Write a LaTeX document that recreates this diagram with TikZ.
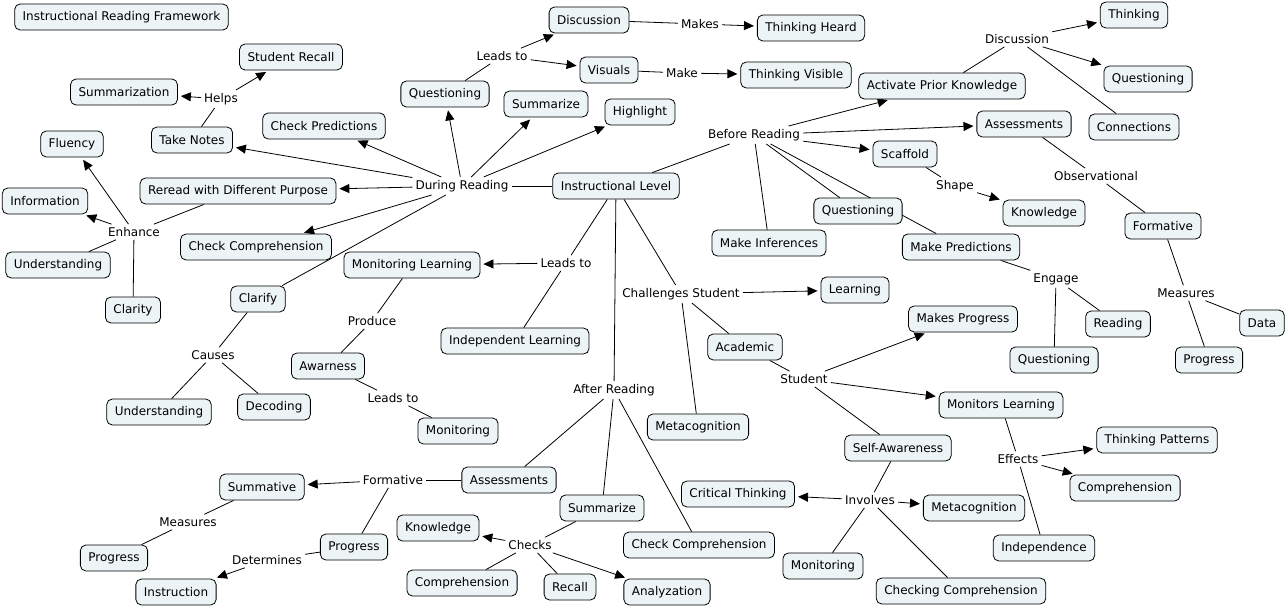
\documentclass[tikz,border=0pt]{standalone}
\usepackage{fontspec}
\setmainfont{DejaVu Sans}
\usetikzlibrary{arrows.meta,backgrounds}
\definecolor{cfill}{RGB}{237,244,246}
\begin{document}
\begin{tikzpicture}[x=1pt,y=-1pt,
  concept/.style={draw=black, line width=0.8pt, fill=cfill, rounded corners=5.5pt,
    minimum height=26pt, inner xsep=8pt, inner ysep=3pt, font=\fontsize{12}{14}\selectfont},
  lp/.style={inner sep=3pt, font=\fontsize{12}{14}\selectfont},
  link/.style={line width=0.8pt, draw=black},
  arr/.style={link, -{Triangle[length=10pt,width=9pt]}, shorten >=3pt}]
\useasboundingbox (0,0) rectangle (1287,608);
% concepts
\node[concept] (irf) at (121.5,17) {Instructional Reading Framework};
\node[concept] (sr) at (291,57) {Student Recall};
\node[concept] (summ) at (124,92) {Summarization};
\node[concept] (tn) at (192,140) {Take Notes};
\node[concept] (cp) at (324,126) {Check Predictions};
\node[concept] (flu) at (72,144) {Fluency};
\node[concept] (rr) at (238,191) {Reread with Different Purpose};
\node[concept] (info) at (45,201) {Information};
\node[concept] (cc1) at (256,247) {Check Comprehension};
\node[concept] (und1) at (58,265) {Understanding};
\node[concept] (clarity) at (133,310) {Clarity};
\node[concept] (clarify) at (258,299) {Clarify};
\node[concept] (ml) at (412,265) {Monitoring Learning};
\node[concept] (q1) at (445,94) {Questioning};
\node[concept] (disc1) at (589,20) {Discussion};
\node[concept] (vis) at (609,70) {Visuals};
\node[concept] (th) at (811,28) {Thinking Heard};
\node[concept] (tv) at (796,75) {Thinking Visible};
\node[concept] (sum1) at (546,104) {Summarize};
\node[concept] (hl) at (640,112) {Highlight};
\node[concept] (il) at (616,186) {Instructional Level};
\node[concept] (apk) at (942,86) {Activate Prior Knowledge};
\node[concept] (thinking) at (1134,15) {Thinking};
\node[concept] (q2) at (1148,79) {Questioning};
\node[concept] (conn) at (1134,127) {Connections};
\node[concept] (ass1) at (1024,124) {Assessments};
\node[concept] (scaf) at (905,154) {Scaffold};
\node[concept] (know1) at (1044,213) {Knowledge};
\node[concept] (form1) at (1163,226) {Formative};
\node[concept] (q3) at (858,211) {Questioning};
\node[concept] (mi) at (769,243) {Make Inferences};
\node[concept] (mp) at (961,247) {Make Predictions};
\node[concept] (reading) at (1118,324) {Reading};
\node[concept] (q4) at (1054,360) {Questioning};
\node[concept] (data) at (1262,323) {Data};
\node[concept] (prog1) at (1209,360) {Progress};
\node[concept] (indep) at (515,341) {Independent Learning};
\node[concept] (learn) at (855,290) {Learning};
\node[concept] (acad) at (745,347) {Academic};
\node[concept] (meta1) at (698,427) {Metacognition};
\node[concept] (mkp) at (963,319) {Makes Progress};
\node[concept] (monl) at (1001,405) {Monitors Learning};
\node[concept] (sa) at (898,448) {Self-Awareness};
\node[concept] (tp) at (1157,440) {Thinking Patterns};
\node[concept] (comp1) at (1125,488) {Comprehension};
\node[concept] (indep2) at (1044,548) {Independence};
\node[concept] (ct) at (738,494) {Critical Thinking};
\node[concept] (meta2) at (974,508) {Metacognition};
\node[concept] (mon2) at (823,566) {Monitoring};
\node[concept] (chk) at (961,591) {Checking Comprehension};
\node[concept] (aw) at (328,366) {Awarness};
\node[concept] (mon1) at (458,431) {Monitoring};
\node[concept] (und2) at (159,412) {Understanding};
\node[concept] (dec) at (274,407) {Decoding};
\node[concept] (ass2) at (509,480) {Assessments};
\node[concept] (summative) at (262,487) {Summative};
\node[concept] (prog2) at (114,558) {Progress};
\node[concept] (prog3) at (354,547) {Progress};
\node[concept] (instr) at (176,592) {Instruction};
\node[concept] (sum2) at (602,508) {Summarize};
\node[concept] (know2) at (438,528) {Knowledge};
\node[concept] (comp2) at (462,583) {Comprehension};
\node[concept] (recall) at (570,587) {Recall};
\node[concept] (anal) at (667,592) {Analyzation};
\node[concept] (cc2) at (699,545) {Check Comprehension};
% linking phrases
\node[lp] (helps) at (221,99) {Helps};
\node[lp] (enh) at (134,232) {Enhance};
\node[lp] (during) at (462,186) {During Reading};
\node[lp] (leads1) at (502,56) {Leads to};
\node[lp] (makes) at (700,24) {Makes};
\node[lp] (make) at (682,73) {Make};
\node[lp] (before) at (754,135) {Before Reading};
\node[lp] (disc2) at (1017,39) {Discussion};
\node[lp] (shape) at (955,186) {Shape};
\node[lp] (obs) at (1096,176) {Observational};
\node[lp] (engage) at (1056,279) {Engage};
\node[lp] (meas1) at (1186,293) {Measures};
\node[lp] (leads2) at (566,263) {Leads to};
\node[lp] (chal) at (681,294) {Challenges Student};
\node[lp] (student) at (804,379) {Student};
\node[lp] (effects) at (1018,459) {Effects};
\node[lp] (involves) at (870,500) {Involves};
\node[lp] (produce) at (372,321) {Produce};
\node[lp] (leads3) at (393,398) {Leads to};
\node[lp] (causes) at (213,355) {Causes};
\node[lp] (after) at (614,390) {After Reading};
\node[lp] (form2) at (393,480) {Formative};
\node[lp] (meas2) at (188,522) {Measures};
\node[lp] (det) at (267,560) {Determines};
\node[lp] (checks) at (530,545) {Checks};
% connectors
\begin{scope}[on background layer]
\draw[link] (tn) -- (helps);
\draw[arr] (helps) -- (summ);
\draw[arr] (helps) -- (sr);
\draw[link] (il) -- (during);
\draw[arr] (during) -- (tn);
\draw[arr] (during) -- (cp);
\draw[arr] (during) -- (rr);
\draw[arr] (during) -- (cc1);
\draw[arr] (during) -- (q1);
\draw[arr] (during) -- (sum1);
\draw[arr] (during) -- (hl);
\draw[link] (during) -- (clarify);
\draw[link] (rr) -- (enh);
\draw[arr] (enh) -- (flu);
\draw[arr] (enh) -- (info);
\draw[link] (enh) -- (und1);
\draw[link] (enh) -- (clarity);
\draw[link] (q1) -- (leads1);
\draw[arr] (leads1) -- (disc1);
\draw[arr] (leads1) -- (vis);
\draw[link] (disc1) -- (makes);
\draw[arr] (makes) -- (th);
\draw[link] (vis) -- (make);
\draw[arr] (make) -- (tv);
\draw[link] (il) -- (before);
\draw[arr] (before) -- (apk);
\draw[arr] (before) -- (ass1);
\draw[arr] (before) -- (scaf);
\draw[link] (before) -- (mi);
\draw[link] (before) -- (q3);
\draw[link] (before) -- (mp);
\draw[link] (apk) -- (disc2);
\draw[arr] (disc2) -- (thinking);
\draw[arr] (disc2) -- (q2);
\draw[link] (disc2) -- (conn);
\draw[link] (ass1) -- (obs);
\draw[link] (obs) -- (form1);
\draw[link] (form1) -- (meas1);
\draw[link] (meas1) -- (data);
\draw[link] (meas1) -- (prog1);
\draw[link] (scaf) -- (shape);
\draw[arr] (shape) -- (know1);
\draw[link] (mp) -- (engage);
\draw[link] (engage) -- (q4);
\draw[link] (engage) -- (reading);
\draw[link] (il) -- (leads2);
\draw[arr] (leads2) -- (ml);
\draw[link] (leads2) -- (indep);
\draw[link] (il) -- (after);
\draw[link] (il) -- (chal);
\draw[arr] (chal) -- (learn);
\draw[link] (chal) -- (acad);
\draw[link] (chal) -- (meta1);
\draw[link] (acad) -- (student);
\draw[arr] (student) -- (mkp);
\draw[arr] (student) -- (monl);
\draw[link] (student) -- (sa);
\draw[link] (ml) -- (produce);
\draw[link] (produce) -- (aw);
\draw[link] (aw) -- (leads3);
\draw[link] (leads3) -- (mon1);
\draw[link] (clarify) -- (causes);
\draw[link] (causes) -- (und2);
\draw[link] (causes) -- (dec);
\draw[link] (after) -- (ass2);
\draw[link] (after) -- (sum2);
\draw[link] (after) -- (cc2);
\draw[link] (ass2) -- (form2);
\draw[arr] (form2) -- (summative);
\draw[link] (form2) -- (prog3);
\draw[link] (summative) -- (meas2);
\draw[link] (meas2) -- (prog2);
\draw[link] (prog3) -- (det);
\draw[arr] (det) -- (instr);
\draw[link] (sum2) -- (checks);
\draw[arr] (checks) -- (know2);
\draw[link] (checks) -- (comp2);
\draw[link] (checks) -- (recall);
\draw[arr] (checks) -- (anal);
\draw[link] (monl) -- (effects);
\draw[arr] (effects) -- (tp);
\draw[arr] (effects) -- (comp1);
\draw[link] (effects) -- (indep2);
\draw[link] (sa) -- (involves);
\draw[arr] (involves) -- (ct);
\draw[arr] (involves) -- (meta2);
\draw[link] (involves) -- (mon2);
\draw[link] (involves) -- (chk);
\end{scope}
\end{tikzpicture}
\end{document}
